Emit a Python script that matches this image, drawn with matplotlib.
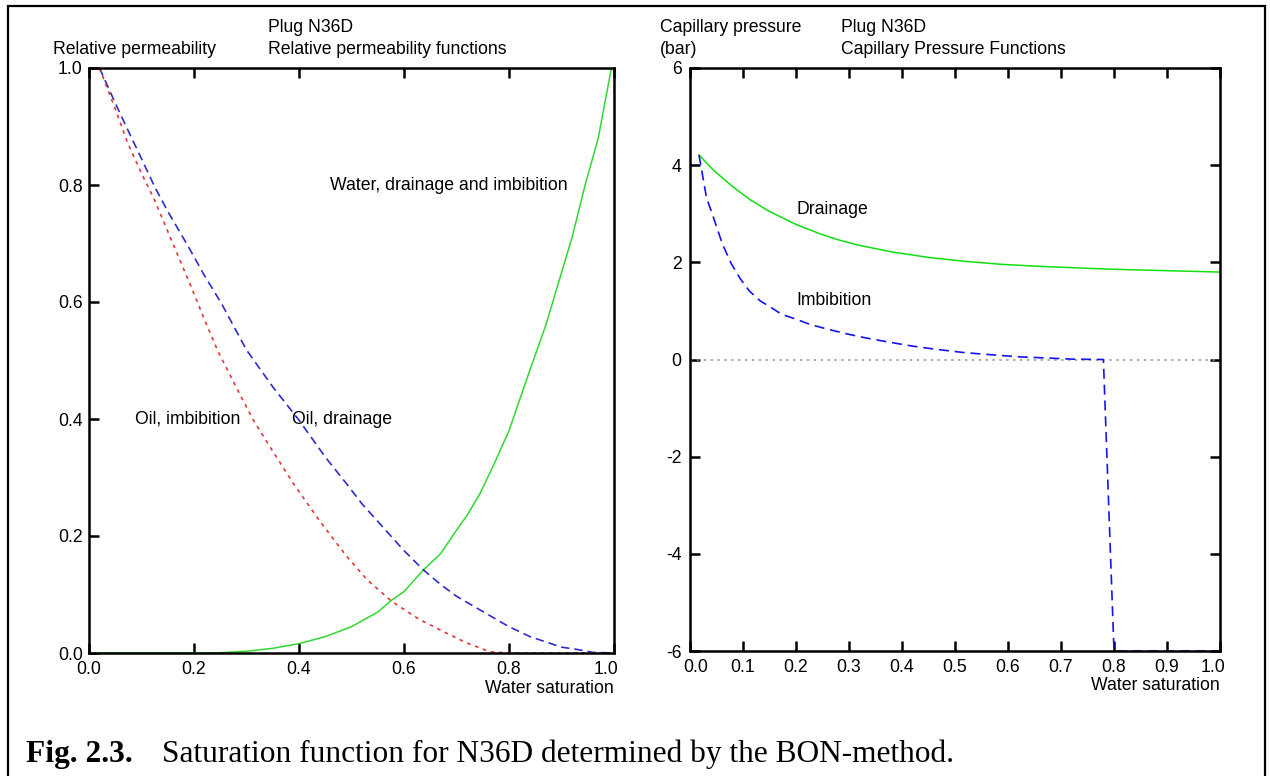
import numpy as np
import matplotlib
matplotlib.use("Agg")
import matplotlib.pyplot as plt
import matplotlib.transforms as mtransforms
from matplotlib.patches import Rectangle

plt.rcParams['font.family'] = ['Liberation Sans', 'DejaVu Sans']
plt.rcParams['axes.unicode_minus'] = False

# relative permeability
sw_water = [0.0, 0.2, 0.25, 0.3, 0.35, 0.4, 0.45, 0.5, 0.55, 0.576, 0.6, 0.637, 0.67, 0.7,
            0.72, 0.745, 0.77, 0.8, 0.84, 0.87, 0.9, 0.92, 0.945, 0.97, 0.995]
kr_water = [0.0, 0.0, 0.0005, 0.003, 0.008, 0.016, 0.028, 0.045, 0.07, 0.09, 0.105, 0.142, 0.17, 0.21,
            0.235, 0.273, 0.32, 0.38, 0.484, 0.56, 0.65, 0.71, 0.80, 0.88, 1.0]

sw_oil_dr = [0.02, 0.05, 0.074, 0.1, 0.125, 0.15, 0.189, 0.22, 0.252, 0.30, 0.35, 0.40, 0.45,
             0.49, 0.52, 0.56, 0.6, 0.637, 0.67, 0.70, 0.745, 0.8, 0.84, 0.87, 0.90, 0.93, 0.96, 1.0]
kr_oil_dr = [1.0, 0.94, 0.894, 0.845, 0.797, 0.755, 0.695, 0.645, 0.598, 0.518, 0.455, 0.398, 0.335,
             0.29, 0.255, 0.215, 0.175, 0.142, 0.117, 0.097, 0.0735, 0.045, 0.028, 0.019, 0.01, 0.006, 0.001, 0.0]

sw_oil_imb = [0.02, 0.05, 0.074, 0.1, 0.125, 0.155, 0.189, 0.22, 0.246, 0.28, 0.313, 0.35, 0.389,
              0.44, 0.491, 0.53, 0.577, 0.63, 0.681, 0.72, 0.764, 0.8, 1.0]
kr_oil_imb = [1.0, 0.93, 0.871, 0.82, 0.774, 0.71, 0.638, 0.57, 0.515, 0.455, 0.398, 0.345, 0.29,
              0.225, 0.165, 0.125, 0.088, 0.057, 0.034, 0.017, 0.002, 0.0, 0.0]

# capillary pressure (bar)
sw_pc_dr = [0.017, 0.044, 0.078, 0.112, 0.146, 0.2, 0.247, 0.281, 0.315, 0.383, 0.451, 0.519,
            0.586, 0.654, 0.722, 0.79, 0.858, 1.0]
pc_dr = [4.21, 3.90, 3.58, 3.30, 3.07, 2.78, 2.58, 2.46, 2.36, 2.21, 2.10, 2.02,
         1.96, 1.92, 1.89, 1.86, 1.84, 1.80]

sw_pc_imb = [0.017, 0.031, 0.044, 0.061, 0.078, 0.095, 0.112, 0.132, 0.153, 0.173, 0.2, 0.227,
             0.261, 0.295, 0.329, 0.369, 0.417, 0.464, 0.519, 0.566, 0.62, 0.675, 0.722, 0.78, 0.80, 1.0]
pc_imb = [4.21, 3.34, 2.93, 2.38, 1.97, 1.66, 1.41, 1.21, 1.07, 0.93, 0.83, 0.72,
          0.62, 0.53, 0.45, 0.37, 0.28, 0.21, 0.14, 0.10, 0.055, 0.03, 0.007, 0.0, -6.0, -6.0]

kr_ticks = [0.0, 0.2, 0.4, 0.6, 0.8, 1.0]
pc_xticks = [0.0, 0.1, 0.2, 0.3, 0.4, 0.5, 0.6, 0.7, 0.8, 0.9, 1.0]
pc_yticks = [-6, -4, -2, 0, 2, 4, 6]

W, H = 1270, 776
fig = plt.figure(figsize=(W / 100, H / 100), dpi=100)

def px(x0, y0, x1, y1):
    return [x0 / W, 1 - y1 / H, (x1 - x0) / W, (y1 - y0) / H]

def nudge(label, dx):
    # shift a tick label sideways by dx pixels
    off = mtransforms.ScaledTranslation(dx / 100, 0, fig.dpi_scale_trans)
    label.set_transform(label.get_transform() + off)

fs = 12.7

# ---- left panel
ax1 = fig.add_axes(px(89, 68, 614, 653))
ax1.plot(sw_water, kr_water, color='#30d830', lw=1.1)
ax1.plot(sw_oil_dr, kr_oil_dr, color='#2c2ccf', lw=1.2, dashes=(5, 3))
ax1.plot(sw_oil_imb, kr_oil_imb, color='#e03838', lw=1.2, dashes=(2.2, 2.8))
ax1.set_xlim(0, 1.0)
ax1.set_ylim(0, 1.0)
ax1.set_xticks(kr_ticks)
ax1.set_xticklabels(['%.1f' % v for v in kr_ticks])
ax1.set_yticks(kr_ticks)
ax1.set_yticklabels(['%.1f' % v for v in kr_ticks])
ax1.tick_params(direction='in', length=7, width=1.8, top=True, right=False,
                labelsize=fs)
ax1.tick_params(axis='x', pad=6)
ax1.tick_params(axis='y', pad=4.5)
nudge(ax1.get_xticklabels()[-1], -8)
ax1.text(0.46, 0.8, 'Water, drainage and imbibition', fontsize=fs, va='center')
ax1.text(0.088, 0.4, 'Oil, imbibition', fontsize=fs, va='center')
ax1.text(0.387, 0.4, 'Oil, drainage', fontsize=fs, va='center')
ax1.text(1.0, -0.06, 'Water saturation', fontsize=fs, ha='right', va='center',
         transform=ax1.transAxes)
fig.text(53 / W, 1 - 49 / H, 'Relative permeability', fontsize=fs, va='center')
fig.text(268 / W, 1 - 28 / H, 'Plug N36D', fontsize=fs, va='center')
fig.text(268 / W, 1 - 49 / H, 'Relative permeability functions', fontsize=fs, va='center')

# ---- right panel
ax2 = fig.add_axes(px(690, 68, 1220, 651))
ax2.axhline(0, color='#909090', lw=1.1, ls=(0, (1.5, 3)))
ax2.plot(sw_pc_dr, pc_dr, color='#10e010', lw=1.1)
ax2.plot(sw_pc_imb, pc_imb, color='#1414f0', lw=1.2, dashes=(6, 3.5))
ax2.set_xlim(0, 1.0)
ax2.set_ylim(-6, 6)
ax2.set_xticks(pc_xticks)
ax2.set_xticklabels(['%.1f' % v for v in pc_xticks])
ax2.set_yticks(pc_yticks)
ax2.set_yticklabels([str(v) for v in pc_yticks])
ax2.tick_params(direction='in', length=7, width=1.8, top=True, right=True,
                labelsize=fs)
ax2.tick_params(axis='x', pad=6)
ax2.tick_params(axis='y', pad=6)
nudge(ax2.get_xticklabels()[0], 6)
nudge(ax2.get_xticklabels()[-1], -7)
ax2.text(0.2, 3.09, 'Drainage', fontsize=fs, va='center')
ax2.text(0.2, 1.21, 'Imbibition', fontsize=fs, va='center')
ax2.text(1.0, -0.06, 'Water saturation', fontsize=fs, ha='right', va='center',
         transform=ax2.transAxes)
fig.text(660 / W, 1 - 28 / H, 'Capillary pressure', fontsize=fs, va='center')
fig.text(660 / W, 1 - 49 / H, '(bar)', fontsize=fs, va='center')
fig.text(841 / W, 1 - 28 / H, 'Plug N36D', fontsize=fs, va='center')
fig.text(841 / W, 1 - 49 / H, 'Capillary Pressure Functions', fontsize=fs, va='center')

for ax in (ax1, ax2):
    for s in ax.spines.values():
        s.set_linewidth(1.8)

# outer frame and caption
fig.patches.append(Rectangle((8 / W, -0.05), (1265 - 8) / W, 1.05 - 6 / H,
                             transform=fig.transFigure, fill=False,
                             edgecolor='black', lw=1.6))
fig.text(26 / W, 1 - 762 / H, 'Fig. 2.3.', fontsize=22.6, fontweight='bold',
         family='Liberation Serif', va='baseline')
fig.text(162 / W, 1 - 762 / H, 'Saturation function for N36D determined by the BON-method.',
         fontsize=22.6, family='Liberation Serif', va='baseline')

fig.savefig('out.png', dpi=100)
